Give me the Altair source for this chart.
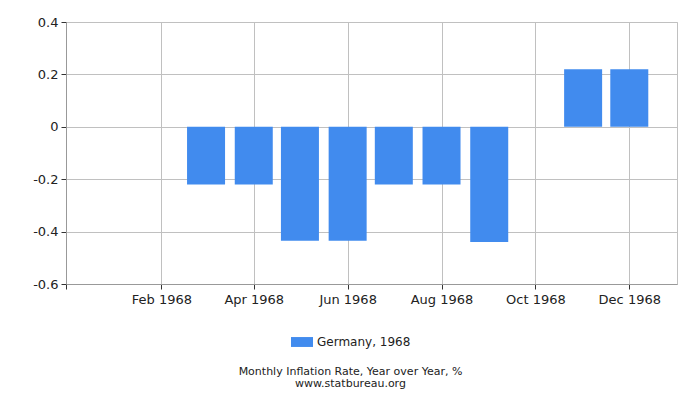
import altair as alt
import pandas as pd

months = ["1968-01-01", "1968-02-01", "1968-03-01", "1968-04-01", "1968-05-01", "1968-06-01",
          "1968-07-01", "1968-08-01", "1968-09-01", "1968-10-01", "1968-11-01", "1968-12-01"]
values = [0.0, 0.0, -0.22, -0.22, -0.435, -0.435, -0.22, -0.22, -0.44, 0.0, 0.22, 0.22]
series = "Germany, 1968"
tick_dates = ["1967-12-01", "1968-02-01", "1968-04-01", "1968-06-01", "1968-08-01", "1968-10-01", "1968-12-01"]
y_ticks = [-0.6, -0.4, -0.2, 0, 0.2, 0.4]

df = pd.DataFrame({"date": months, "value": values, "series": series})

FONT = "DejaVu Sans"

x_vals = [alt.DateTime(year=int(d[:4]), month=int(d[5:7]), date=1) for d in tick_dates]

chart = alt.Chart(df).mark_bar(width=38, color="#418bee").encode(
    x=alt.X("date:T",
            scale=alt.Scale(domain=[alt.DateTime(year=1967, month=12, date=1),
                                    alt.DateTime(year=1969, month=1, date=1)],
                            padding=0),
            axis=alt.Axis(title=None, values=x_vals,
                          labelExpr="month(datum.value) == 11 && year(datum.value) == 1967 ? '' : timeFormat(datum.value, '%b %Y')",
                          grid=True, gridColor="#c0c0c0", domainColor="#999999",
                          tickColor="#333333", tickSize=5, labelPadding=4,
                          labelFont=FONT, labelFontSize=13, labelColor="#222222")),
    y=alt.Y("value:Q",
            scale=alt.Scale(domain=[-0.6, 0.4], nice=False),
            axis=alt.Axis(title=None, values=y_ticks, labelExpr="'' + datum.value",
                          grid=True, gridColor="#c0c0c0", domainColor="#999999",
                          tickColor="#333333", tickSize=5, labelPadding=3,
                          labelFont=FONT, labelFontSize=13, labelColor="#222222")),
    fill=alt.Fill("series:N", scale=alt.Scale(range=["#418bee"]),
                  legend=alt.Legend(title=None, orient="none", legendX=225, legendY=47 + 262,
                                    symbolType="M-1,-0.45H1V0.45H-1Z", symbolSize=484,
                                    symbolStrokeWidth=0, labelFont=FONT, labelFontSize=12,
                                    labelColor="#222222", symbolOpacity=1)),
).properties(
    width=611, height=262,
    autosize=alt.AutoSizeParams(type="none"),
    padding={"left": 58, "top": 14, "right": 15, "bottom": 108},
    title=alt.TitleParams(text=["Monthly Inflation Rate, Year over Year, %", "www.statbureau.org"],
                          orient="bottom", anchor="middle", font=FONT, fontSize=11,
                          fontWeight="normal", color="#222222", offset=18, lineHeight=12,
                          dx=-21),
).configure_view(stroke="#c0c0c0")

chart.save("out.html", embed_options={"renderer": "svg", "actions": False})
